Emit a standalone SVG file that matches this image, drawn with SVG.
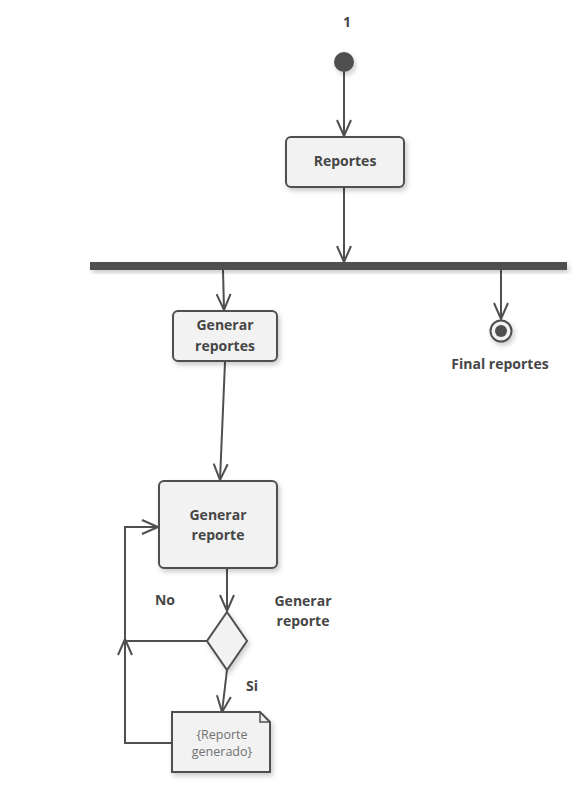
<svg xmlns="http://www.w3.org/2000/svg" width="588" height="793" viewBox="0 0 588 793">
<style>
.lbl{font-family:"Open Sans","Liberation Sans",sans-serif;font-weight:bold;font-size:14px;fill:#464646;text-anchor:middle}
.note{font-family:"Open Sans","Liberation Sans",sans-serif;font-size:12.5px;fill:#707070;text-anchor:middle}
.box{fill:#f2f2f2;stroke:#4f4f4f;stroke-width:2}
.edge{fill:none;stroke:#4f4f4f;stroke-width:2}
</style>
<defs>
<filter id="sh" x="-20%" y="-20%" width="150%" height="160%">
<feDropShadow dx="2" dy="3" stdDeviation="2.5" flood-color="#000" flood-opacity="0.2"/>
</filter>
<marker id="arr" markerUnits="userSpaceOnUse" markerWidth="20" markerHeight="20" viewBox="-18 -9 20 18" refX="0" refY="0" orient="auto">
<path d="M-16,-7 L0,0 L-16,7" fill="none" stroke="#4f4f4f" stroke-width="2"/>
</marker>
</defs>
<rect width="588" height="793" fill="#fff"/>
<text class="lbl" x="347" y="27">1</text>
<g id="connectors">
<path class="edge" d="M344,72 L344,136" marker-end="url(#arr)"/>
<path class="edge" d="M344,187 L344,262" marker-end="url(#arr)"/>
<path class="edge" d="M223,270 L224,310" marker-end="url(#arr)"/>
<path class="edge" d="M501,270 L501,319" marker-end="url(#arr)"/>
<path class="edge" d="M225,362 L220,480" marker-end="url(#arr)"/>
<path class="edge" d="M227,569 L227,611" marker-end="url(#arr)"/>
<path class="edge" d="M207,641 L125,641 L125,527 L158,527" marker-end="url(#arr)"/>
<path class="edge" d="M227,670 L222,712" marker-end="url(#arr)"/>
<path class="edge" d="M172,743 L125,743 L125,639" marker-end="url(#arr)"/>
</g>
<text class="lbl" x="165" y="605">No</text>
<text class="lbl" x="252" y="691">Si</text>
<g id="start">
<circle cx="344" cy="62" r="10" fill="#4f4f4f" filter="url(#sh)"/>
</g>
<g id="reportes">
<rect class="box" x="286" y="137" width="118" height="50" rx="5" filter="url(#sh)"/>
<text class="lbl" x="345" y="166">Reportes</text>
</g>
<g id="fork">
<rect x="90" y="262" width="477" height="8" fill="#4f4f4f" filter="url(#sh)"/>
</g>
<g id="generar-reportes">
<rect class="box" x="173" y="311" width="104" height="50" rx="5" filter="url(#sh)"/>
<text class="lbl" x="225" y="330">Generar</text>
<text class="lbl" x="225" y="351">reportes</text>
</g>
<g id="final-reportes">
<circle cx="501" cy="331" r="10.5" fill="#f2f2f2" stroke="#4f4f4f" stroke-width="2" filter="url(#sh)"/>
<circle cx="501" cy="331" r="6" fill="#4f4f4f"/>
<text class="lbl" x="500" y="369">Final reportes</text>
</g>
<g id="generar-reporte">
<rect class="box" x="159" y="481" width="118" height="87" rx="5" filter="url(#sh)"/>
<text class="lbl" x="218" y="520">Generar</text>
<text class="lbl" x="218" y="540">reporte</text>
</g>
<g id="decision">
<path class="box" d="M227,612 L247,641 L227,670 L207,641 Z" filter="url(#sh)"/>
<text class="lbl" x="303" y="606">Generar</text>
<text class="lbl" x="303" y="626">reporte</text>
</g>
<g id="reporte-generado">
<path class="box" d="M172,712 L260,712 L270,722 L270,772 L172,772 Z" filter="url(#sh)"/>
<path d="M260,712 L260,722 L270,722" fill="none" stroke="#4f4f4f" stroke-width="1.5"/>
<text class="note" x="222" y="739">{Reporte</text>
<text class="note" x="222" y="756">generado}</text>
</g>
</svg>
